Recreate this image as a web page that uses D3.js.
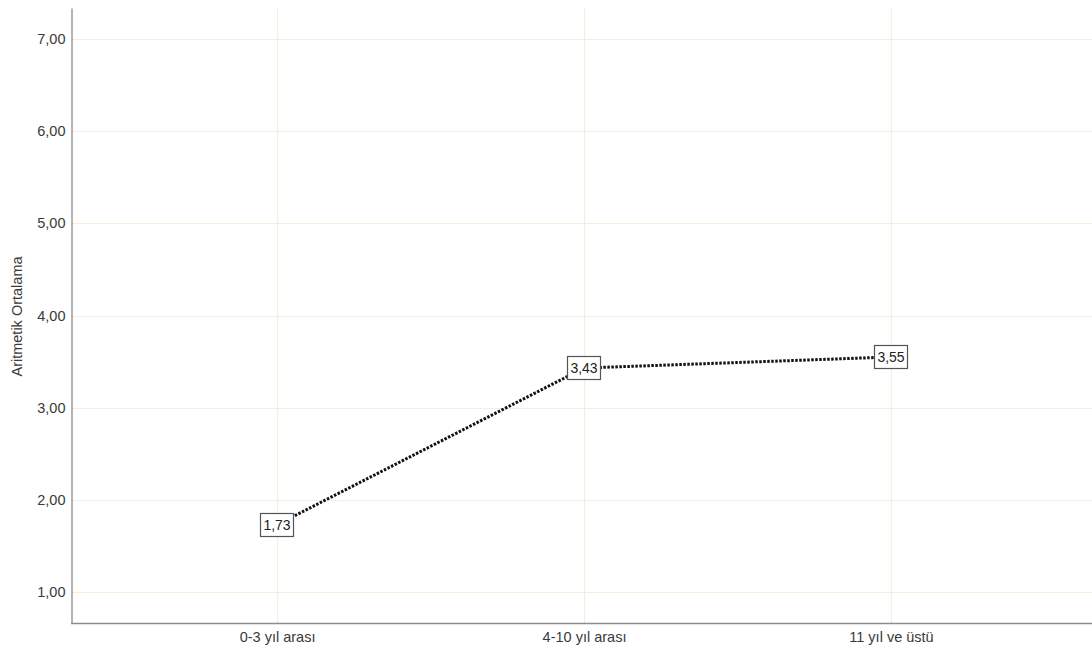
<!DOCTYPE html>
<html>
<head>
<meta charset="utf-8">
<script src="https://cdn.jsdelivr.net/npm/d3@7"></script>
<style>
  body { margin: 0; background: #fff; }
  text { font-family: "Liberation Sans", Arial, sans-serif; }
</style>
</head>
<body>
<div id="chart"></div>
<script>
// categories and mean values
const categories = ["0-3 yıl arası", "4-10 yıl arası", "11 yıl ve üstü"];
const means = [1.73, 3.43, 3.55];
const yTicks = [1, 2, 3, 4, 5, 6, 7];
const yTitle = "Aritmetik Ortalama";

const W = 1092, H = 651;
const margin = {top: 8, right: -4, bottom: 28, left: 72};

const svg = d3.select("#chart")
  .append("svg")
    .attr("width", W)
    .attr("height", H);

const x = d3.scalePoint()
  .domain(categories)
  .range([margin.left, W - margin.right])
  .padding(0.668);

const y = d3.scaleLinear()
  .domain([0.664, 7.336])
  .range([H - margin.bottom, margin.top]);

const fmt = d => d.toFixed(2).replace(".", ",");

// grid lines
svg.append("g")
  .selectAll("line.h")
  .data(yTicks)
  .join("line")
    .attr("x1", margin.left)
    .attr("x2", W)
    .attr("y1", d => Math.round(y(d)) + 0.5)
    .attr("y2", d => Math.round(y(d)) + 0.5)
    .attr("stroke", "#f3efdc")
    .attr("stroke-width", 1.2);

svg.append("g")
  .selectAll("line.v")
  .data(categories)
  .join("line")
    .attr("x1", d => Math.round(x(d)) + 0.5)
    .attr("x2", d => Math.round(x(d)) + 0.5)
    .attr("y1", margin.top)
    .attr("y2", H - margin.bottom)
    .attr("stroke", "#f3efdc")
    .attr("stroke-width", 1.2);

// Y axis
const yAxis = svg.append("g")
  .attr("transform", "translate(" + (margin.left - 0.5) + ",0)")
  .call(d3.axisLeft(y).tickValues(yTicks).tickFormat(fmt).tickSize(0).tickPadding(6));
yAxis.select(".domain").attr("stroke", "#8c8c8c").attr("stroke-width", 1.3);
yAxis.selectAll("text").attr("font-size", 14.5).attr("fill", "#3a3a3a");

// X axis
const xAxis = svg.append("g")
  .attr("transform", "translate(0," + (H - margin.bottom + 0.5) + ")")
  .call(d3.axisBottom(x).tickSize(0).tickPadding(8));
xAxis.select(".domain").attr("stroke", "#8c8c8c").attr("stroke-width", 1.3)
  .attr("d", "M" + (margin.left - 1) + ",0H" + W);
xAxis.selectAll("text").attr("font-size", 14.5).attr("fill", "#3a3a3a");

// Y title
svg.append("text")
  .attr("transform", "translate(22," + (y(4) + 1) + ") rotate(-90)")
  .attr("text-anchor", "middle")
  .attr("font-size", 14.5)
  .attr("fill", "#3a3a3a")
  .text(yTitle);

// line
const pts = categories.map((c, i) => ({c: c, v: means[i]}));
svg.append("path")
  .datum(pts)
  .attr("fill", "none")
  .attr("stroke", "#111")
  .attr("stroke-width", 3)
  .attr("stroke-dasharray", "2.5,1.5")
  .attr("d", d3.line().x(d => x(d.c)).y(d => y(d.v)));

// value labels
const lab = svg.append("g")
  .selectAll("g")
  .data(pts)
  .join("g")
    .attr("transform", d => "translate(" + Math.round(x(d.c)) + "," + Math.round(y(d.v)) + ")");

lab.append("rect")
  .attr("x", -16.5)
  .attr("y", -11.5)
  .attr("width", 33)
  .attr("height", 23)
  .attr("fill", "#fff")
  .attr("stroke", "#555")
  .attr("stroke-width", 1.2);

lab.append("text")
  .attr("text-anchor", "middle")
  .attr("dy", "0.36em")
  .attr("font-size", 14)
  .attr("fill", "#222")
  .text(d => fmt(d.v));
</script>
</body>
</html>
